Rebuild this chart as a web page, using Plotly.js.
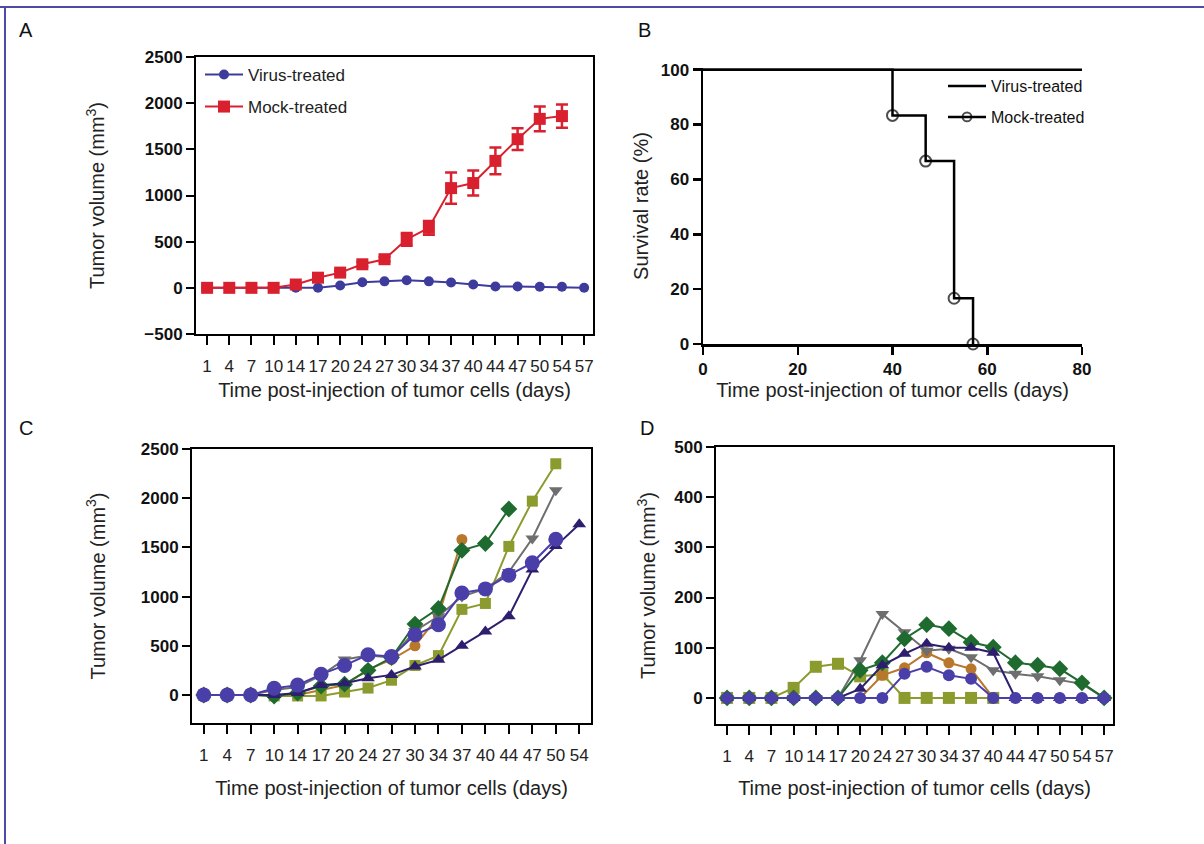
<!DOCTYPE html>
<html><head><meta charset="utf-8">
<script src="https://cdn.plot.ly/plotly-3.0.1.min.js"></script>
<style>html,body{margin:0;padding:0;background:#fff}#chart{width:1204px;height:844px}</style>
</head><body><div id="chart"></div><script>
// ---------- data ----------
var daysA = ['1','4','7','10','14','17','20','24','27','30','34','37','40','44','47','50','54','57'];
var virusA = [0,0,0,0,0,0,25,60,70,83,70,58,36,15,15,12,11,0];
var mockA = [0,0,0,0,36,110,165,255,310,525,650,1080,1135,1375,1610,1830,1860];
var mockErrA = [0,0,0,5,10,20,20,25,25,70,75,170,135,145,117,135,125];

var survDaysVirus = [0,80];
var survVirus = [100,100];
var survDaysMock = [0,40,47,53,57];
var survMock = [100,83.33,66.67,16.67,0];

var daysC = ['1','4','7','10','14','17','20','24','27','30','34','37','40','44','47','50','54'];
var orangeC = [0,0,0,0,0,50,100,260,360,500,800,1580,null,null,null,null,null];
var oliveC  = [0,0,0,-10,-10,-10,30,70,150,300,400,870,930,1510,1970,2350,null];
var grayC   = [0,0,0,50,80,200,360,400,380,650,800,1000,1080,1250,1590,2080,null];
var greenC  = [0,0,0,-10,20,90,110,250,380,720,880,1470,1540,1890,null,null,null];
var triC    = [0,0,0,0,20,100,120,170,204,290,357,500,646,800,1275,1513,1735];
var blueC   = [0,0,0,68,100,210,300,408,390,612,714,1037,1078,1218,1343,1582,null];

var daysD = ['1','4','7','10','14','17','20','24','27','30','34','37','40','44','47','50','54','57'];
var oliveD  = [0,0,0,20,62,68,43,47,0,0,0,0,0,null,null,null,null,null];
var orangeD = [0,0,0,0,0,0,0,45,60,90,70,58,0,0,0,0,0,0];
var grayD   = [0,0,0,0,0,0,75,167,131,94,98,81,55,48,43,35,28,0];
var greenD  = [0,0,0,0,0,0,55,70,118,146,138,111,101,70,65,58,30,0];
var triD    = [0,0,0,0,0,0,18,65,88,108,100,100,90,0,0,0,0,0];
var blueD   = [0,0,0,0,0,0,0,0,48,62,45,38,0,0,0,0,0,0];

// ---------- style ----------
var W = 1204, H = 844;
function px(x){return x/W;}
function py(y){return 1-y/H;}
var SANS = 'Liberation Sans, Arial, sans-serif';
var C_BLUE='#4a3fa8', C_TRI='#2e1f6e', C_GREEN='#1f6b2f', C_OLIVE='#8b9b2e', C_GRAY='#6e6e6e', C_ORANGE='#b8772a';
var C_RED='#d9202e', C_BLUEA='#3d3b9c';

function ser(x,y,color,symbol,size,xa,ya){
  return {x:x,y:y,type:'scatter',mode:'lines+markers',xaxis:xa,yaxis:ya,showlegend:false,
    line:{color:color,width:2},marker:{color:color,symbol:symbol,size:size,line:{width:0}},cliponaxis:false};
}

var traces = [];
// A
traces.push({x:daysA,y:virusA,type:'scatter',mode:'lines+markers',xaxis:'x',yaxis:'y',name:'Virus-treated',legend:'legend',
  line:{color:C_BLUEA,width:2},marker:{color:C_BLUEA,symbol:'circle',size:10},cliponaxis:false});
traces.push({x:daysA.slice(0,mockA.length),y:mockA,type:'scatter',mode:'lines+markers',xaxis:'x',yaxis:'y',name:'Mock-treated',legend:'legend2',
  line:{color:C_RED,width:2},marker:{color:C_RED,symbol:'square',size:12},
  error_y:{type:'data',array:mockErrA,visible:true,color:C_RED,thickness:2.5,width:6},cliponaxis:false});
// B
traces.push({x:survDaysVirus,y:survVirus,type:'scatter',mode:'lines',xaxis:'x2',yaxis:'y2',name:'Virus-treated',legend:'legend3',
  line:{color:'#000',width:2.5},cliponaxis:false});
traces.push({x:survDaysMock,y:survMock,type:'scatter',mode:'lines+markers',xaxis:'x2',yaxis:'y2',name:'Mock-treated',legend:'legend4',
  line:{color:'#000',width:2.5,shape:'hv'},marker:{symbol:'circle-open',size:[0,11,11,11,11],color:'#000',line:{width:2,color:'#000'}},cliponaxis:false});
// C
traces.push(ser(daysC,orangeC,C_ORANGE,'circle',11,'x3','y3'));
traces.push(ser(daysC,oliveC,C_OLIVE,'square',11,'x3','y3'));
traces.push(ser(daysC,grayC,C_GRAY,'triangle-down',12,'x3','y3'));
traces.push(ser(daysC,greenC,C_GREEN,'diamond',13,'x3','y3'));
traces.push(ser(daysC,triC,C_TRI,'triangle-up',12,'x3','y3'));
traces.push(ser(daysC,blueC,C_BLUE,'circle',15,'x3','y3'));
// D
traces.push(ser(daysD,oliveD,C_OLIVE,'square',12,'x4','y4'));
traces.push(ser(daysD,orangeD,C_ORANGE,'circle',11,'x4','y4'));
traces.push(ser(daysD,grayD,C_GRAY,'triangle-down',12,'x4','y4'));
traces.push(ser(daysD,greenD,C_GREEN,'diamond',13,'x4','y4'));
traces.push(ser(daysD,triD,C_TRI,'triangle-up',12,'x4','y4'));
traces.push(ser(daysD,blueD,C_BLUE,'circle',12,'x4','y4'));

var tickFontBold = {family:SANS,size:17,weight:'bold',color:'#111'};
var tickFontX = {family:SANS,size:17,color:'#222'};
var titleFont = {family:SANS,size:20,color:'#222'};
var XTITLE = 'Time post-injection of tumor cells (days)';
var YTITLE = 'Tumor volume (mm<sup>3</sup>)';

function catX(l,r,cats,hi,anchor,standoff){
  return {domain:[px(l),px(r)],anchor:anchor,type:'category',range:[-0.5,hi],
    showline:true,linewidth:2,linecolor:'#000',mirror:true,showgrid:false,zeroline:false,
    ticks:'outside',ticklen:9,tickwidth:2,tickcolor:'#000',tickfont:tickFontX,tickangle:0,ticklabelstandoff:7,
    automargin:false,fixedrange:true,
    title:{text:XTITLE,font:titleFont,standoff:standoff}};
}
function numY(t,b,range,dtick,anchor,standoff){
  return {domain:[py(b),py(t)],anchor:anchor,range:range,tick0:0,dtick:dtick,
    showline:true,linewidth:2,linecolor:'#000',mirror:true,showgrid:false,zeroline:false,
    ticks:'outside',ticklen:8,tickwidth:2,tickcolor:'#000',tickfont:tickFontBold,
    automargin:false,fixedrange:true,
    title:{text:YTITLE,font:titleFont,standoff:standoff}};
}

var layout = {
  width:W,height:H,margin:{l:0,r:0,t:0,b:0,autoexpand:false},paper_bgcolor:'#fff',plot_bgcolor:'#fff',
  font:{family:SANS,color:'#222'},
  xaxis: catX(196,593,daysA,17.4,'y',8),
  yaxis: numY(57,334,[-500,2500],500,'x',34),
  xaxis2:{domain:[px(703),px(1082)],anchor:'y2',range:[0,80],tick0:0,dtick:20,
    showline:true,linewidth:2.5,linecolor:'#000',mirror:false,showgrid:false,zeroline:false,
    ticks:'outside',ticklen:8,tickwidth:2.5,tickcolor:'#000',tickfont:tickFontBold,automargin:false,fixedrange:true,
    title:{text:XTITLE,font:titleFont,standoff:5}},
  yaxis2:{domain:[py(344),py(68)],anchor:'x2',range:[0,100.6],tickvals:[0,20,40,60,80,100],
    showline:true,linewidth:2.5,linecolor:'#000',mirror:false,showgrid:false,zeroline:false,
    ticks:'outside',ticklen:8,tickwidth:2.5,tickcolor:'#000',tickfont:tickFontBold,automargin:false,fixedrange:true,
    title:{text:'Survival rate (%)',font:titleFont,standoff:7}},
  xaxis3: catX(192,591,daysC,16.5,'y3',17),
  yaxis3: numY(449,723,[-285,2500],500,'x3',30),
  xaxis4: catX(716,1113,daysD,17.4,'y4',16),
  yaxis4: numY(447,724,[-52,500],100,'x4',13),
  legend:{x:px(200),y:py(75),xanchor:'left',yanchor:'middle',bgcolor:'rgba(0,0,0,0)',font:{family:SANS,size:17,color:'#222'},itemwidth:38},
  legend2:{x:px(200),y:py(107),xanchor:'left',yanchor:'middle',bgcolor:'rgba(0,0,0,0)',font:{family:SANS,size:17,color:'#222'},itemwidth:38},
  legend3:{x:px(943),y:py(86),xanchor:'left',yanchor:'middle',bgcolor:'rgba(0,0,0,0)',font:{family:SANS,size:16,color:'#111'},itemwidth:38},
  legend4:{x:px(943),y:py(117),xanchor:'left',yanchor:'middle',bgcolor:'rgba(0,0,0,0)',font:{family:SANS,size:16,color:'#111'},itemwidth:38},
  annotations:[
    {text:'A',x:px(17),y:py(30),xref:'paper',yref:'paper',xanchor:'left',yanchor:'middle',showarrow:false,font:{family:SANS,size:20,color:'#111'}},
    {text:'B',x:px(636),y:py(30),xref:'paper',yref:'paper',xanchor:'left',yanchor:'middle',showarrow:false,font:{family:SANS,size:20,color:'#111'}},
    {text:'C',x:px(17),y:py(428),xref:'paper',yref:'paper',xanchor:'left',yanchor:'middle',showarrow:false,font:{family:SANS,size:20,color:'#111'}},
    {text:'D',x:px(638),y:py(428),xref:'paper',yref:'paper',xanchor:'left',yanchor:'middle',showarrow:false,font:{family:SANS,size:20,color:'#111'}}
  ],
  shapes:[
    {type:'line',xref:'paper',yref:'paper',x0:0,x1:1,y0:py(7),y1:py(7),line:{color:'#4b4ba5',width:2}},
    {type:'line',xref:'paper',yref:'paper',x0:px(5),x1:px(5),y0:py(7),y1:0,line:{color:'#4b4ba5',width:2}}
  ]
};

Plotly.newPlot('chart',traces,layout,{staticPlot:true,displayModeBar:false});
</script></body></html>
